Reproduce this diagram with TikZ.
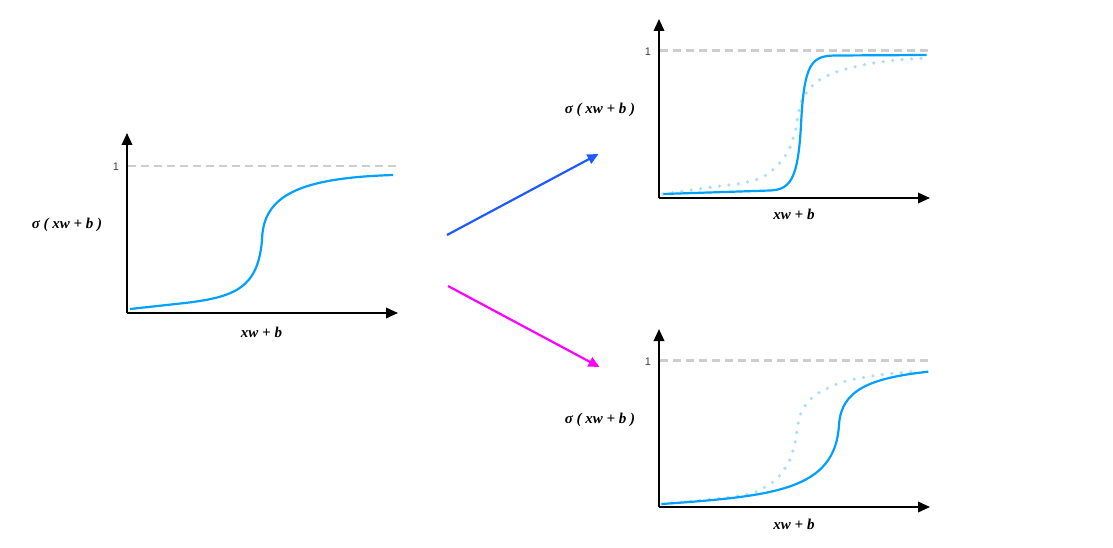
\documentclass[tikz,border=0pt]{standalone}
\usepackage{fontspec}
\setmainfont{Liberation Serif}
\newfontfamily\tickfont{Liberation Sans}
\usetikzlibrary{arrows.meta}
\definecolor{sigBlue}{RGB}{0,160,255}
\definecolor{sigPale}{RGB}{172,220,255}
\definecolor{limGray}{RGB}{205,205,205}
\definecolor{upBlue}{RGB}{30,90,255}
\definecolor{downPink}{RGB}{255,0,255}
\begin{document}
\begin{tikzpicture}[x=1pt,y=-1pt,
    sigAx/.style={-{Triangle[length=12pt,width=10.5pt]},line width=2pt},
    sigCurve/.style={line width=2.2pt,sigBlue},
    sigGhost/.style={line width=3.6pt,sigPale,line cap=round,dash pattern=on 0pt off 9.5pt},
    sigLimit/.style={limGray,line width=2.2pt,dash pattern=on 8pt off 5pt},
    sigOne/.style={font=\tickfont\fontsize{11}{12}\selectfont,text=black!75},
    sigLabel/.style={font=\fontsize{15}{17}\selectfont\bfseries\itshape},
    sigShift/.style={-{Triangle[length=11pt,width=10pt]},line width=2.2pt},
]
\useasboundingbox (0,0) rectangle (1113,548);
% Axes
\coordinate (oA) at (127,313); \coordinate (yA) at (127,133); \coordinate (xA) at (398,313);
\coordinate (oB) at (659,198); \coordinate (yB) at (659,19);  \coordinate (xB) at (930,198);
\coordinate (oC) at (659,507); \coordinate (yC) at (659,329); \coordinate (xC) at (930,507);
\draw[sigAx] (oA) -- (yA);
\draw[sigAx] (oA) -- (xA);
\draw[sigAx] (oB) -- (yB);
\draw[sigAx] (oB) -- (xB);
\draw[sigAx] (oC) -- (yC);
\draw[sigAx] (oC) -- (xC);
% Limit at 1
\draw[sigLimit] (128,166) -- (396,166);
\draw[sigLimit] (660,50.5) -- (929,50.5);
\draw[sigLimit] (660,360.5) -- (929,360.5);
\node[sigOne] (oneA) at (116,167) {1};
\node[sigOne] (oneB) at (648,51.5) {1};
\node[sigOne] (oneC) at (648,361.5) {1};
% Original sigmoid
\draw[sigCurve] (130,309) -- (185,303) .. controls (235,297) and (258,288) .. (262,240)
                .. controls (263,195) and (300,178) .. (393,175);
% Steeper sigmoid, old one dotted
\draw[sigGhost] plot[smooth] coordinates {(663,194) (713,187) (743,183) (762,177.5) (778,165) (789,149.5) (795.5,130) (797.5,118) (801.5,101) (807,92) (813,85) (821,79) (839,71) (868,64) (897,60) (927,58)};
\draw[sigCurve] (663.3,194) -- (770,190.5) .. controls (790,189.5) and (798,180) .. (801,125)
                .. controls (804,62) and (812,56) .. (835,55.5) -- (926.7,55);
% Shifted sigmoid, old one dotted
\draw[sigGhost] plot[smooth] coordinates {(662,504) (723,498) (753,493) (770,484) (778.3,477.3) (789.3,461) (795,442.7) (798.3,422.7) (801,413) (806,404.3) (812.7,397.3) (820.7,391.7) (838.7,383.3) (858.3,378.3) (887.3,374) (918,371.5)};
\draw[sigCurve] (661.7,504) .. controls (775,496) and (835,490) .. (839,425)
                .. controls (841,390) and (870,378) .. (928.3,371.7);
% Labels
\node[sigLabel] (yLblA) at (67,225) {σ ( xw + b )};
\node[sigLabel] (xLblA) at (261.5,332) {xw + b};
\node[sigLabel] (yLblB) at (600,110) {σ ( xw + b )};
\node[sigLabel] (xLblB) at (794,214) {xw + b};
\node[sigLabel] (yLblC) at (600,420) {σ ( xw + b )};
\node[sigLabel] (xLblC) at (794,524) {xw + b};
% Arrows to the two changes
\coordinate (upFrom) at (447,235);   \coordinate (upTo) at (598.5,154);
\coordinate (downFrom) at (448,286); \coordinate (downTo) at (599.5,367);
\draw[sigShift,upBlue] (upFrom) -- (upTo);
\draw[sigShift,downPink] (downFrom) -- (downTo);
\end{tikzpicture}
\end{document}
